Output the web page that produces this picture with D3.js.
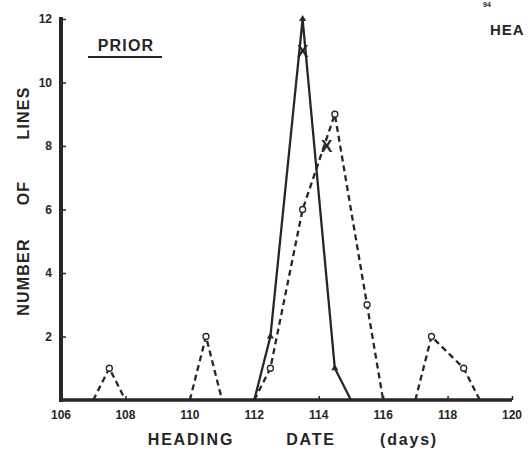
<!DOCTYPE html>
<html>
<head>
<meta charset="utf-8">
<script src="https://cdn.jsdelivr.net/npm/d3@7"></script>
<style>
  html, body { margin: 0; padding: 0; background: #fff; }
  svg { display: block; }
  text { font-family: "Liberation Sans", Arial, Helvetica, sans-serif; font-weight: bold; fill: #262626; }
  .tick-label { font-family: "Liberation Sans Narrow", "Arial Narrow", "Liberation Sans", sans-serif; }
</style>
</head>
<body>
<svg id="chart" width="532" height="461"></svg>
<script>
// Heading date (days) on the x axis, number of lines on the y axis.
// null entries break the line into separate peaks.
const dashedDates  = [107, 107.5, 108, null, 110, 110.5, 111, null, 112, 112.5, 113.5, 114.5, 115.5, 116, null, 117, 117.5, 118.5, 119];
const dashedCounts = [0,   1,     0,   null, 0,   2,     0,   null, 0,   1,     6,     9,     3,     0,   null, 0,   2,     1,     0];
const dashedMarked = [false, true, false, null, false, true, false, null, false, true, true, true, true, false, null, false, true, true, false];

const solidDates  = [112, 112.5, 113.5, 114.5, 115];
const solidCounts = [0,   2,     12,    1,     0];
const solidMarked = [false, true, true, true, false];

// Mean positions marked with an X
const meanDates  = [113.5, 114.25];
const meanCounts = [11,    8];

const xTicks = [106, 108, 110, 112, 114, 116, 118, 120];
const yTicks = [2, 4, 6, 8, 10, 12];

const svg = d3.select("#chart");
const ink = "#262626";

const x = d3.scaleLinear().domain([106, 120]).range([61, 512]);
const y = d3.scaleLinear().domain([0, 12]).range([400, 19]);

// Axes
const yAxis = d3.axisRight(y).tickValues(yTicks).tickSize(5).tickFormat("");
const gy = svg.append("g").attr("transform", `translate(${x(106)},0)`).call(yAxis);
gy.select(".domain").remove();
gy.selectAll(".tick line").attr("stroke", ink).attr("stroke-width", 1.5);

const xAxis = d3.axisTop(x).tickValues(xTicks.slice(1)).tickSize(4).tickFormat("");
const gx = svg.append("g").attr("transform", `translate(0,${y(0)})`).call(xAxis);
gx.select(".domain").remove();
gx.selectAll(".tick line").attr("stroke", ink).attr("stroke-width", 1.5);

svg.append("line")
  .attr("x1", x(106)).attr("x2", x(106))
  .attr("y1", y(0) + 2).attr("y2", y(12) - 2)
  .attr("stroke", ink).attr("stroke-width", 4);
svg.append("line")
  .attr("x1", x(106) - 2).attr("x2", x(120))
  .attr("y1", y(0)).attr("y2", y(0))
  .attr("stroke", ink).attr("stroke-width", 3.5);

// Tick labels
svg.append("g").selectAll("text").data(yTicks).join("text")
  .attr("class", "tick-label")
  .attr("x", x(106) - 9).attr("y", d => y(d) + 4)
  .attr("text-anchor", "end").attr("font-size", 12)
  .text(d => d);
svg.append("g").selectAll("text").data(xTicks).join("text")
  .attr("class", "tick-label")
  .attr("x", d => x(d)).attr("y", y(0) + 19)
  .attr("text-anchor", "middle").attr("font-size", 12)
  .text(d => d);

// Series
const dashedData = dashedDates.map((d, i) => ({ x: d, y: dashedCounts[i], m: dashedMarked[i] }));
const solidData = solidDates.map((d, i) => ({ x: d, y: solidCounts[i], m: solidMarked[i] }));

const line = d3.line()
  .defined(d => d.x !== null)
  .x(d => x(d.x)).y(d => y(d.y));

svg.append("path").datum(dashedData)
  .attr("d", line).attr("fill", "none")
  .attr("stroke", ink).attr("stroke-width", 2.3)
  .attr("stroke-dasharray", "6,4");

svg.append("path").datum(solidData)
  .attr("d", line).attr("fill", "none")
  .attr("stroke", ink).attr("stroke-width", 2.3);

svg.append("g").selectAll("path").data(solidData.filter(d => d.m)).join("path")
  .attr("transform", d => `translate(${x(d.x)},${y(d.y)})`)
  .attr("d", d3.symbol(d3.symbolTriangle, 22))
  .attr("fill", ink);

svg.append("g").selectAll("circle").data(dashedData.filter(d => d.m)).join("circle")
  .attr("cx", d => x(d.x)).attr("cy", d => y(d.y)).attr("r", 3)
  .attr("fill", "#fff").attr("stroke", ink).attr("stroke-width", 1.3);

svg.append("g").selectAll("text").data(meanDates.map((d, i) => ({ x: d, y: meanCounts[i] }))).join("text")
  .attr("x", d => x(d.x)).attr("y", d => y(d.y) + 6)
  .attr("text-anchor", "middle").attr("font-size", 17)
  .text("X");

// Panel title
svg.append("text").attr("x", 126).attr("y", 51)
  .attr("text-anchor", "middle").attr("font-size", 16).attr("letter-spacing", 1.2)
  .text("PRIOR");
svg.append("line").attr("x1", 88).attr("x2", 162).attr("y1", 57).attr("y2", 57)
  .attr("stroke", ink).attr("stroke-width", 2);

// Neighbouring panel heading
svg.append("text").attr("x", 483).attr("y", 7).attr("font-size", 7).text("94");
svg.append("text").attr("x", 490).attr("y", 35).attr("font-size", 15).attr("letter-spacing", 1).text("HEA");

// Axis titles
const yWords = [["LINES", 113], ["OF", 193], ["NUMBER", 277]];
svg.append("g").selectAll("text").data(yWords).join("text")
  .attr("transform", d => `translate(29,${d[1]}) rotate(-90)`)
  .attr("text-anchor", "middle").attr("font-size", 16).attr("letter-spacing", 1.2)
  .text(d => d[0]);

const xWords = [["HEADING", 191], ["DATE", 311], ["(days)", 409]];
svg.append("g").selectAll("text").data(xWords).join("text")
  .attr("x", d => d[1]).attr("y", 445)
  .attr("text-anchor", "middle").attr("font-size", 16).attr("letter-spacing", 1.8)
  .text(d => d[0]);
</script>
</body>
</html>
